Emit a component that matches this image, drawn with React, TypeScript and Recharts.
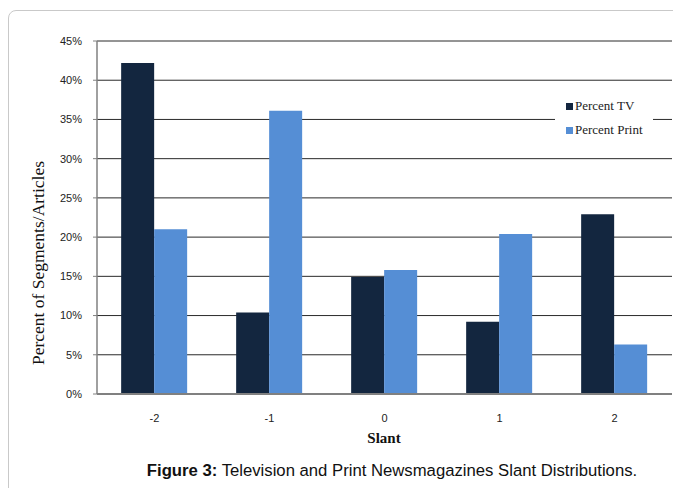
import { BarChart, Bar, XAxis, YAxis, CartesianGrid } from 'recharts'

const slants = ['-2', '-1', '0', '1', '2']
const percentTV = [42.2, 10.4, 14.9, 9.2, 22.9]
const percentPrint = [21.0, 36.1, 15.8, 20.4, 6.3]
const yTicks = [0, 5, 10, 15, 20, 25, 30, 35, 40, 45]
const seriesNames = ['Percent TV', 'Percent Print']

const TV_COLOR = '#13263F'
const PRINT_COLOR = '#558ED5'

const data = slants.map((s, i) => ({ slant: s, tv: percentTV[i], print: percentPrint[i] }))

const serif = '"Liberation Serif", "Times New Roman", serif'
const sans = '"Liberation Sans", Arial, sans-serif'

// legend sits on top of the grid with a white box, like the original
const LegendBox = () => (
  <div
    style={{
      position: 'absolute',
      left: 555,
      top: 92,
      width: 98,
      background: '#fff',
      padding: '2px 0 2px 11px',
      boxSizing: 'border-box',
      fontFamily: serif,
      fontSize: 13,
      color: '#222'
    }}
  >
    {seriesNames.map((name, i) => (
      <div key={name} style={{ display: 'flex', alignItems: 'center', height: 24 }}>
        <span style={{ width: 7, height: 7, background: i === 0 ? TV_COLOR : PRINT_COLOR, marginRight: 2 }} />
        {name}
      </div>
    ))}
  </div>
)

const App = () => {
  return (
    <div style={{ position: 'relative', width: 681, height: 496, margin: -8, overflow: 'hidden', background: '#fff' }}>
      <div
        style={{
          position: 'absolute',
          left: 8,
          top: 10,
          width: 690,
          height: 510,
          border: '1px solid #c9c9c9',
          borderRadius: 8
        }}
      />
      <div style={{ position: 'absolute', left: 0, top: 0 }}>
        <BarChart
          width={681}
          height={450}
          data={data}
          margin={{ top: 41, right: 9, bottom: 4, left: 0 }}
          barCategoryGap="21%"
          barGap={0}
        >
          <CartesianGrid vertical={false} stroke="#2a2a2a" />
          <XAxis
            dataKey="slant"
            height={52}
            axisLine={{ stroke: '#808080', strokeWidth: 2 }}
            tickLine={false}
            tickMargin={14}
            tick={{ fontFamily: sans, fontSize: 11, fill: '#222' }}
          />
          <YAxis
            width={97}
            domain={[0, 45]}
            ticks={yTicks}
            tickFormatter={(v) => `${v}%`}
            axisLine={{ stroke: '#808080', strokeWidth: 1.5 }}
            tickLine={{ stroke: '#808080' }}
            tickSize={4}
            tickMargin={11}
            tick={{ fontFamily: sans, fontSize: 11, fill: '#222' }}
          />
          <Bar dataKey="tv" name={seriesNames[0]} fill={TV_COLOR} isAnimationActive={false} />
          <Bar dataKey="print" name={seriesNames[1]} fill={PRINT_COLOR} isAnimationActive={false} />
        </BarChart>
      </div>
      <LegendBox />
      <div
        style={{
          position: 'absolute',
          left: 38,
          top: 263,
          transform: 'translate(-50%, -50%) rotate(-90deg)',
          whiteSpace: 'nowrap',
          fontFamily: serif,
          fontSize: 17.5,
          color: '#111'
        }}
      >
        Percent of Segments/Articles
      </div>
      <div
        style={{
          position: 'absolute',
          left: 384,
          top: 438,
          transform: 'translate(-50%, -50%)',
          fontFamily: serif,
          fontWeight: 'bold',
          fontSize: 15,
          color: '#111'
        }}
      >
        Slant
      </div>
      <div
        style={{
          position: 'absolute',
          left: 392,
          top: 471,
          transform: 'translate(-50%, -50%)',
          whiteSpace: 'nowrap',
          fontFamily: sans,
          fontSize: 16.7,
          color: '#111'
        }}
      >
        <b>Figure 3:</b> Television and Print Newsmagazines Slant Distributions.
      </div>
    </div>
  )
}

export default App
